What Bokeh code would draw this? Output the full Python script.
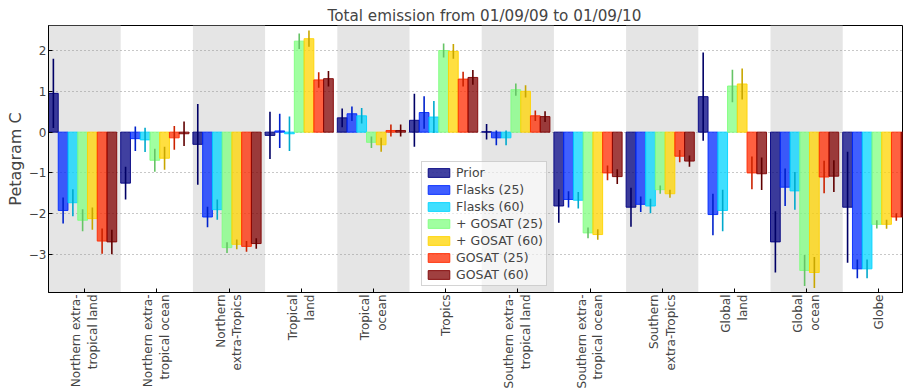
import math
from bokeh.plotting import figure
from bokeh.models import ColumnDataSource, FixedTicker, BoxAnnotation, Legend, LegendItem, Range1d
from bokeh.embed import file_html
from bokeh.resources import INLINE

# ---------------- data ----------------
regions = ["Northern extra-\ntropical land", "Northern extra-\ntropical ocean", "Northern\nextra-Tropics",
           "Tropical\nland", "Tropical\nocean", "Tropics",
           "Southern extra-\ntropical land", "Southern extra-\ntropical ocean", "Southern\nextra-Tropics",
           "Global\nland", "Global\nocean", "Globe"]
series_names = ["Prior", "Flasks (25)", "Flasks (60)", "+ GOSAT (25)", "+ GOSAT (60)", "GOSAT (25)", "GOSAT (60)"]

prior = [0.95, -1.25, -0.30, -0.08, 0.35, 0.29, 0.01, -1.81, -1.84, 0.87, -2.69, -1.84]
prior_err = [0.85, 0.40, 0.99, 0.58, 0.23, 0.65, 0.19, 0.41, 0.48, 1.08, 0.75, 1.36]
flasks25 = [-1.92, -0.16, -2.08, 0.03, 0.45, 0.48, -0.14, -1.65, -1.77, -2.02, -1.35, -3.35]
flasks25_err = [0.32, 0.30, 0.25, 0.42, 0.18, 0.40, 0.18, 0.20, 0.19, 0.51, 0.46, 0.23]
flasks60 = [-1.73, -0.19, -1.90, -0.04, 0.40, 0.37, -0.14, -1.67, -1.81, -1.92, -1.44, -3.35]
flasks60_err = [0.33, 0.30, 0.25, 0.42, 0.19, 0.39, 0.18, 0.20, 0.18, 0.51, 0.46, 0.23]
plus_gosat25 = [-2.16, -0.69, -2.83, 2.23, -0.25, 2.00, 1.04, -2.47, -1.41, 1.13, -3.39, -2.26]
plus_gosat25_err = [0.27, 0.28, 0.13, 0.19, 0.14, 0.17, 0.15, 0.13, 0.10, 0.40, 0.38, 0.10]
plus_gosat60 = [-2.12, -0.64, -2.75, 2.29, -0.31, 1.98, 1.00, -2.51, -1.51, 1.18, -3.44, -2.26]
plus_gosat60_err = [0.27, 0.28, 0.12, 0.20, 0.17, 0.18, 0.15, 0.13, 0.10, 0.38, 0.38, 0.11]
gosat25 = [-2.67, -0.14, -2.80, 1.28, 0.04, 1.30, 0.40, -1.00, -0.59, -1.00, -1.10, -2.08]
gosat25_err = [0.31, 0.29, 0.13, 0.19, 0.15, 0.18, 0.13, 0.18, 0.15, 0.40, 0.40, 0.09]
gosat60 = [-2.69, -0.04, -2.73, 1.31, 0.04, 1.34, 0.38, -1.09, -0.71, -1.02, -1.08, -2.08]
gosat60_err = [0.30, 0.30, 0.13, 0.19, 0.15, 0.18, 0.13, 0.18, 0.14, 0.40, 0.39, 0.09]

y_ticks = [-3, -2, -1, 0, 1, 2]
y_tick_labels = ["\u22123", "\u22122", "\u22121", "0", "1", "2"]

series_values = [prior, flasks25, flasks60, plus_gosat25, plus_gosat60, gosat25, gosat60]
series_errors = [prior_err, flasks25_err, flasks60_err, plus_gosat25_err, plus_gosat60_err, gosat25_err, gosat60_err]

# ---------------- style ----------------
fill_colors = ["#000080", "#002aff", "#00d4ff", "#80ff80", "#ffd400", "#ff2b00", "#800000"]
err_colors = ["#000066", "#0022cc", "#00a9cc", "#66c466", "#c8a600", "#cc2200", "#600000"]
BAR_W = 0.135
FONT = "DejaVu Sans"

p = figure(width=903, height=391, output_backend="svg", toolbar_location=None,
           x_range=Range1d(-0.5, 11.342), y_range=Range1d(-3.93, 2.613),
           min_border_left=48, min_border_right=0, min_border_top=25, min_border_bottom=99)
p.background_fill_color = "white"
p.border_fill_color = "white"
p.outline_line_color = "black"
p.outline_line_width = 1

# alternating grey bands
for i in range(0, len(regions), 2):
    p.add_layout(BoxAnnotation(left=i - 0.5, right=i + 0.5, fill_color="#e5e5e5", fill_alpha=1.0,
                               line_alpha=0, level="image"))

items = []
for j, (name, vals, errs) in enumerate(zip(series_names, series_values, series_errors)):
    xs = [i - 0.5 + (j + 0.5) * BAR_W for i in range(len(regions))]
    src = ColumnDataSource(dict(x=xs, top=vals,
                                lo=[v - e for v, e in zip(vals, errs)],
                                hi=[v + e for v, e in zip(vals, errs)]))
    r = p.vbar(x="x", top="top", bottom=0, width=BAR_W, source=src,
               fill_color=fill_colors[j], fill_alpha=0.75,
               line_color=fill_colors[j], line_alpha=0.9, line_width=1)
    p.segment(x0="x", x1="x", y0="lo", y1="hi", source=src, line_color=err_colors[j], line_width=1.6)
    items.append(LegendItem(label=name, renderers=[r]))

legend = Legend(items=items, location=(373, 6), margin=0, padding=3, spacing=2,
                glyph_width=27, glyph_height=11, label_height=15, label_standoff=4,
                label_text_font=FONT, label_text_font_size="12.5px",
                background_fill_color="white", background_fill_alpha=0.6,
                border_line_color="#aaaaaa", border_line_width=1)
p.add_layout(legend)

# axes
p.yaxis.ticker = FixedTicker(ticks=y_ticks)
p.yaxis.major_label_overrides = {t: l for t, l in zip(y_ticks, y_tick_labels)}
p.yaxis.major_tick_in = 4
p.yaxis.major_tick_out = 0
p.yaxis.minor_tick_line_color = None
p.yaxis.major_label_text_font = FONT
p.yaxis.major_label_text_font_size = "12px"
p.yaxis.major_label_standoff = 2
p.yaxis.axis_label = "Petagram C"
p.yaxis.axis_label_text_font = FONT
p.yaxis.axis_label_text_font_size = "16px"
p.yaxis.axis_label_text_font_style = "normal"
p.yaxis.axis_label_standoff = 1

p.xaxis.ticker = FixedTicker(ticks=list(range(len(regions))))
p.xaxis.major_label_overrides = {i: lab for i, lab in enumerate(regions)}
p.xaxis.major_label_orientation = math.pi / 2
p.xaxis.major_tick_in = 4
p.xaxis.major_tick_out = 0
p.xaxis.minor_tick_line_color = None
p.xaxis.major_label_text_font = FONT
p.xaxis.major_label_text_font_size = "12px"
p.xaxis.major_label_standoff = 2

p.xgrid.visible = False
p.ygrid.ticker = FixedTicker(ticks=y_ticks)
p.ygrid.grid_line_color = "#909090"
p.ygrid.grid_line_dash = "1 3"
p.ygrid.grid_line_width = 1

p.title.text = "Total emission from 01/09/09 to 01/09/10"
p.title.text_font = FONT
p.title.text_font_size = "15.2px"
p.title.text_font_style = "normal"
p.title.align = "left"
p.title.offset = 279
p.title.standoff = 1

open("out.html", "w").write(file_html(p, INLINE))
